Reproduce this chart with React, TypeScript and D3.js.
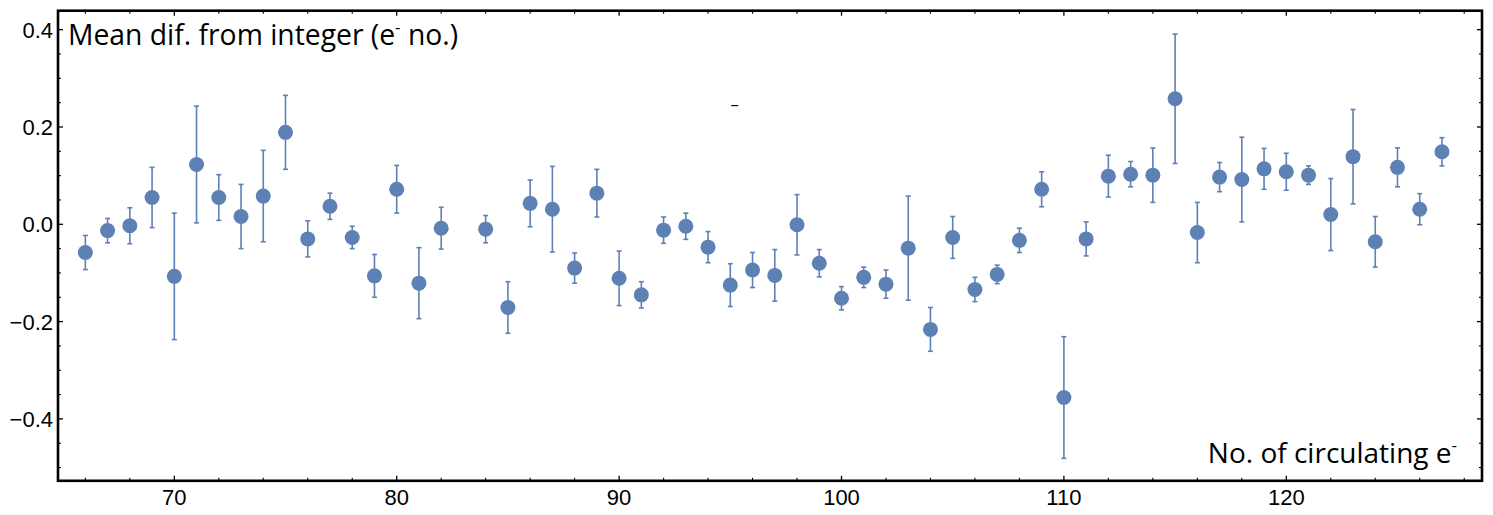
import React from "react";
import * as d3 from "d3";

const electrons = [66, 67, 68, 69, 70, 71, 72, 73, 74, 75, 76, 77, 78, 79, 80, 81, 82, 84, 85, 86, 87, 88, 89, 90, 91, 92, 93, 94, 95, 96, 97, 98, 99, 100, 101, 102, 103, 104, 105, 106, 107, 108, 109, 110, 111, 112, 113, 114, 115, 116, 117, 118, 119, 120, 121, 122, 123, 124, 125, 126, 127];
const meanDiff = [-0.058, -0.013, -0.003, 0.055, -0.107, 0.123, 0.055, 0.016, 0.058, 0.189, -0.030, 0.037, -0.027, -0.106, 0.072, -0.121, -0.008, -0.010, -0.171, 0.043, 0.031, -0.090, 0.064, -0.111, -0.145, -0.012, -0.004, -0.047, -0.125, -0.094, -0.105, -0.001, -0.080, -0.152, -0.109, -0.123, -0.049, -0.216, -0.027, -0.134, -0.103, -0.033, 0.072, -0.356, -0.030, 0.099, 0.103, 0.101, 0.258, -0.017, 0.097, 0.092, 0.114, 0.108, 0.101, 0.020, 0.139, -0.036, 0.117, 0.031, 0.149];
const errHalf = [0.035, 0.025, 0.037, 0.062, 0.130, 0.120, 0.047, 0.066, 0.094, 0.076, 0.037, 0.027, 0.023, 0.044, 0.049, 0.073, 0.043, 0.028, 0.053, 0.048, 0.088, 0.031, 0.049, 0.056, 0.027, 0.027, 0.027, 0.032, 0.044, 0.036, 0.053, 0.062, 0.028, 0.024, 0.021, 0.029, 0.107, 0.045, 0.043, 0.025, 0.019, 0.025, 0.036, 0.125, 0.035, 0.043, 0.026, 0.056, 0.133, 0.062, 0.030, 0.087, 0.042, 0.038, 0.019, 0.074, 0.097, 0.052, 0.040, 0.032, 0.029];

const xMajorTicks = [70, 80, 90, 100, 110, 120];
const xMinorTicks = [66, 68, 72, 74, 76, 78, 82, 84, 86, 88, 92, 94, 96, 98, 102, 104, 106, 108, 112, 114, 116, 118, 122, 124, 126, 128];
const yMajorTicks = [-0.4, -0.2, 0.0, 0.2, 0.4];
const yMinorTicks = [-0.5, -0.45, -0.35, -0.3, -0.25, -0.15, -0.1, -0.05, 0.05, 0.1, 0.15, 0.25, 0.3, 0.35];
const yTickLabels = ["\u22120.4", "\u22120.2", "0.0", "0.2", "0.4"];
const strayMark = { x: 95.2, y: 0.244 };

const W = 1493;
const H = 515;
const L = 58, R = 1482, T = 10.7, B = 480.8;
const COLOR = "#5E81B5";

export default function App() {
  const x = d3.scaleLinear().domain([64.77, 128.8]).range([L, R]);
  const y = d3.scaleLinear().domain([-0.5272, 0.439]).range([B, T]);
  const tickFont = "'Liberation Sans', Arial, sans-serif";
  const labelFont = "'Open Sans', 'Noto Sans', sans-serif";
  return (
    <svg width={W} height={H} style={{ position: "absolute", left: 0, top: 0, background: "#fff" }}>
      <rect x={0} y={0} width={W} height={H} fill="#fff" />
      {electrons.map((e, i) => {
        const cx = x(e);
        const y1 = y(meanDiff[i] + errHalf[i]);
        const y2 = y(meanDiff[i] - errHalf[i]);
        return (
          <g key={"e" + i} stroke={COLOR} strokeWidth={1.6}>
            <line x1={cx} x2={cx} y1={y1} y2={y2} />
            <line x1={cx - 2.5} x2={cx + 2.5} y1={y1} y2={y1} />
            <line x1={cx - 2.5} x2={cx + 2.5} y1={y2} y2={y2} />
          </g>
        );
      })}
      {electrons.map((e, i) => (
        <circle key={"p" + i} cx={x(e)} cy={y(meanDiff[i])} r={7.5} fill={COLOR} />
      ))}
      <line x1={x(strayMark.x) - 3.5} x2={x(strayMark.x) + 3.5} y1={y(strayMark.y)} y2={y(strayMark.y)} stroke="#000" strokeWidth={1.2} />
      <g stroke="#000">
        {xMajorTicks.map((t) => (
          <g key={"xm" + t} strokeWidth={1.3}>
            <line x1={x(t)} x2={x(t)} y1={B} y2={B - 5} />
            <line x1={x(t)} x2={x(t)} y1={T} y2={T + 5} />
          </g>
        ))}
        {xMinorTicks.map((t) => (
          <g key={"xn" + t} strokeWidth={1.1}>
            <line x1={x(t)} x2={x(t)} y1={B} y2={B - 3} />
            <line x1={x(t)} x2={x(t)} y1={T} y2={T + 3} />
          </g>
        ))}
        {yMajorTicks.map((t) => (
          <g key={"ym" + t} strokeWidth={1.3}>
            <line x1={L} x2={L + 5} y1={y(t)} y2={y(t)} />
            <line x1={R} x2={R - 5} y1={y(t)} y2={y(t)} />
          </g>
        ))}
        {yMinorTicks.map((t) => (
          <g key={"yn" + t} strokeWidth={1.1}>
            <line x1={L} x2={L + 3} y1={y(t)} y2={y(t)} />
            <line x1={R} x2={R - 3} y1={y(t)} y2={y(t)} />
          </g>
        ))}
      </g>
      <rect x={L} y={T} width={R - L} height={B - T} fill="none" stroke="#000" strokeWidth={2.6} />
      {yMajorTicks.map((t, i) => (
        <text key={"yl" + t} x={L - 5} y={y(t)} dy="0.36em" textAnchor="end" fontFamily={tickFont} fontSize={22} fill="#000">
          {yTickLabels[i]}
        </text>
      ))}
      {xMajorTicks.map((t) => (
        <text key={"xl" + t} x={x(t)} y={505} textAnchor="middle" fontFamily={tickFont} fontSize={22} fill="#000">
          {String(t)}
        </text>
      ))}
      <text x={68} y={45} fontFamily={labelFont} fontSize={28.3} fill="#000">
        Mean dif. from integer (e<tspan dy={-12} fontSize={17}>-</tspan><tspan dy={12}> no.)</tspan>
      </text>
      <text x={1457} y={463} textAnchor="end" fontFamily={labelFont} fontSize={28} fill="#000">
        No. of circulating e<tspan dy={-12} fontSize={17}>-</tspan>
      </text>
    </svg>
  );
}
